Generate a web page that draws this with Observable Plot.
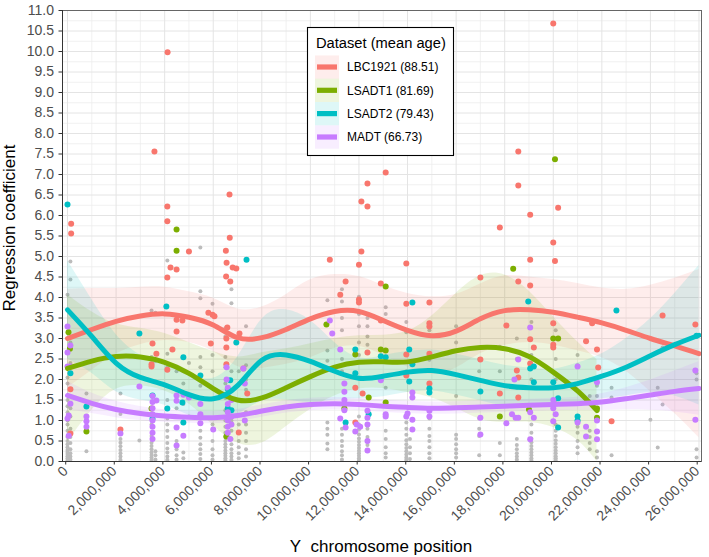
<!DOCTYPE html>
<html><head><meta charset="utf-8">
<script src="https://cdn.jsdelivr.net/npm/d3@7"></script>
<script src="https://cdn.jsdelivr.net/npm/@observablehq/plot@0.6"></script>
<style>body{margin:0;background:#fff;} #chart{position:relative;width:709px;height:557px;}</style>
</head><body><div id="chart"></div>
<script>
// ---------- data (positions in Mb, values = regression coefficient) ----------
const seriesNames = ["LBC1921 (88.51)", "LSADT1 (81.69)", "LSADT2 (79.43)", "MADT (66.73)"];
const seriesColors = ["#F8766D", "#7CAE00", "#00BFC4", "#C77CFF"];
const legendTitle = "Dataset (mean age)";
const xTitle = "Y\u00a0 chromosome position";
const yTitle = "Regression coefficient";

const xTicks = [0, 2e6, 4e6, 6e6, 8e6, 10e6, 12e6, 14e6, 16e6, 18e6, 20e6, 22e6, 24e6, 26e6];
const yTicks = [0, 0.5, 1, 1.5, 2, 2.5, 3, 3.5, 4, 4.5, 5, 5.5, 6, 6.5, 7, 7.5, 8, 8.5, 9, 9.5, 10, 10.5, 11];

// smoothed curves
const curveX = [0,1,2,3,4,5,6,7,8,9,10,11,12,13,14,15,16,17,18,19,20,21,22,23,24,25,26];
const curveXGreen = [0,1,2,3,4,5,6,7,8,9,10,11,12,13,14,15,16,17,18,19,20,21,21.8];

const redY  = [3.0,3.22,3.42,3.55,3.6,3.52,3.33,3.02,3.02,3.22,3.48,3.66,3.66,3.44,3.2,3.07,3.18,3.48,3.68,3.7,3.64,3.52,3.38,3.2,3.0,2.82,2.63];
const redLo = [1.8,2.22,2.62,2.85,2.95,2.9,2.68,2.32,2.27,2.37,2.53,2.76,2.81,2.59,2.3,2.12,2.28,2.63,2.83,2.9,2.84,2.7,2.53,2.2,1.7,1.17,0.58];
const redHi = [4.2,4.22,4.22,4.25,4.25,4.14,3.98,3.72,3.77,4.07,4.43,4.56,4.51,4.29,4.1,4.02,4.08,4.33,4.53,4.5,4.44,4.34,4.23,4.2,4.3,4.47,4.68];

const greenY  = [2.27,2.45,2.56,2.55,2.42,2.15,1.78,1.5,1.55,1.8,2.07,2.3,2.42,2.43,2.43,2.55,2.7,2.78,2.75,2.56,2.18,1.72,1.24];
const greenLo = [0.47,1.25,1.76,1.85,1.72,1.4,0.88,0.45,0.45,0.85,1.27,1.6,1.77,1.78,1.68,1.55,1.3,1.03,0.95,0.96,0.83,0.52,0.0];
const greenHi = [4.07,3.65,3.36,3.25,3.12,2.9,2.68,2.55,2.65,2.75,2.87,3.0,3.07,3.08,3.18,3.55,4.1,4.53,4.55,4.16,3.53,2.92,2.49];

const cyanY  = [3.7,3.05,2.4,2.05,1.87,1.63,1.53,1.85,2.47,2.6,2.44,2.2,2.03,2.08,2.18,2.22,2.12,1.98,1.85,1.8,1.8,1.9,2.08,2.3,2.58,2.85,3.08];
const cyanLo = [2.5,2.15,1.7,1.5,1.37,1.13,1.03,1.15,1.47,1.5,1.44,1.5,1.53,1.58,1.68,1.72,1.62,1.48,1.35,1.32,1.35,1.4,1.53,1.6,1.68,1.6,1.38];
const cyanHi = [4.9,3.95,3.1,2.6,2.37,2.13,2.03,2.55,3.47,3.7,3.44,2.9,2.53,2.58,2.68,2.72,2.62,2.48,2.35,2.28,2.25,2.4,2.63,3.0,3.48,4.1,4.78];

const purpleY  = [1.61,1.42,1.27,1.17,1.11,1.08,1.07,1.12,1.23,1.33,1.39,1.41,1.39,1.35,1.32,1.3,1.31,1.33,1.35,1.37,1.39,1.41,1.45,1.53,1.62,1.71,1.78];
const purpleLo = [1.26,1.17,1.07,1.0,0.96,0.93,0.92,0.97,1.08,1.18,1.24,1.26,1.24,1.2,1.17,1.15,1.16,1.18,1.2,1.22,1.24,1.25,1.25,1.26,1.25,1.21,1.13];
const purpleHi = [1.96,1.67,1.47,1.34,1.26,1.23,1.22,1.27,1.38,1.48,1.54,1.56,1.54,1.5,1.47,1.45,1.46,1.48,1.5,1.52,1.54,1.57,1.65,1.8,1.99,2.21,2.43];

// coloured (per-dataset) points: [position Mb, value]
const redPts = [[0.15,5.8],[0.15,5.56],[0.12,1.76],[0.12,0.68],[2.18,0.78],[3.58,7.56],[4.12,9.98],[4.11,6.22],[4.11,5.86],[4.24,4.73],[4.49,4.68],[4.11,4.49],[5.0,5.12],[6.67,6.51],[6.68,5.46],[6.52,5.14],[6.55,4.85],[6.8,4.73],[6.95,4.71],[6.53,4.51],[6.7,4.39],[5.8,3.63],[5.97,3.58],[6.05,3.54],[4.49,3.46],[4.73,3.44],[6.58,3.27],[7.08,3.12],[5.9,2.88],[6.54,3.0],[6.54,2.78],[4.49,3.17],[3.5,2.88],[3.66,2.63],[4.32,2.73],[3.46,2.37],[3.46,2.32],[6.54,2.37],[7.24,2.27],[4.11,2.24],[7.4,1.66],[7.05,0.71],
  [10.8,4.92],[12.1,5.12],[12.0,4.8],[13.95,4.83],[12.35,6.78],[12.1,6.34],[12.35,6.22],[13.1,7.05],[11.45,4.39],[11.23,4.07],[12.9,4.34],[12.0,3.95],[12.0,3.88],[13.95,3.85],[12.9,3.44],[12.35,2.66],[13.95,2.61],[13.95,2.1],[11.85,1.8],[12.15,1.66],[11.85,0.95],
  [20.0,10.68],[18.56,7.56],[18.56,6.73],[20.2,6.19],[19.05,6.02],[17.8,5.71],[20.0,5.34],[19.05,4.92],[20.07,4.89],[17.0,4.49],[18.56,4.39],[19.05,4.29],[14.9,3.88],[14.9,3.37],[14.9,3.29],[18.07,3.32],[20.0,3.37],[21.6,3.37],[19.05,2.98],[19.2,2.78],[20.0,2.85],[20.0,2.78],[21.35,2.93],[21.8,2.73],[14.9,2.63],[17.0,2.49],[19.05,2.39],[18.5,2.22],[18.56,2.05],[14.9,1.9],[17.8,1.66],[18.56,1.56],[21.85,2.29],[24.5,3.56],[25.85,3.34],[22.4,0.98]];
const greenPts = [[0.04,3.15],[0.1,2.75],[0.78,0.73],[4.49,5.66],[4.49,5.14],[3.46,1.29],[6.54,0.61],[10.66,3.34],[11.85,2.61],[12.9,2.73],[13.1,4.27],[13.1,2.71],[11.4,1.29],[12.4,1.56],[13.1,1.44],[18.35,4.7],[20.07,7.37],[20.0,3.0],[20.2,3.0],[17.8,1.1],[19.0,1.27],[21.8,1.29],[21.8,1.07]];
const cyanPts = [[0.0,6.27],[0.12,2.15],[0.78,1.34],[2.96,3.12],[4.07,3.78],[4.77,2.54],[3.5,1.61],[3.5,1.04],[4.11,1.29],[4.73,1.44],[4.77,0.95],[5.47,2.1],[6.95,2.9],[6.7,1.98],[6.6,1.77],[6.6,1.3],[6.75,1.25],[7.37,4.92],
  [11.85,2.73],[12.9,2.57],[13.1,2.54],[14.07,2.73],[14.2,2.37],[14.2,3.88],[11.85,2.15],[12.4,1.15],[11.45,0.95],[14.07,1.95],
  [18.97,3.9],[19.05,2.27],[19.2,2.32],[19.2,1.93],[14.9,1.78],[14.9,1.68],[17.0,1.71],[20.0,1.93],[20.2,1.54],[20.2,0.83],[21.0,1.1],[21.0,1.0],[22.6,3.68],[25.9,3.07]];
const purplePts = [[0.0,3.29],[0.12,2.83],[0.0,2.66],[0.0,2.32],[0.12,2.32],[0.12,1.41],[0.05,1.12],[0.0,1.05],[0.05,0.63],[0.78,1.1],[0.78,0.98],[0.78,0.85],[2.18,0.68],[2.96,1.83],[3.5,1.6],[3.5,1.45],[3.5,1.3],[3.5,1.15],[3.5,1.0],[3.5,0.85],[3.5,0.7],[3.5,0.55],[3.66,1.49],[4.49,1.61],[4.49,1.48],[4.77,1.63],[5.0,1.56],[4.49,0.83],[4.49,0.39],[4.77,0.63],[5.47,1.4],[5.47,1.15],[5.47,0.93],[6.0,0.78],[6.55,2.3],[6.55,2.0],[6.6,1.8],[6.6,1.6],[6.6,1.4],[6.6,1.2],[6.6,1.0],[6.6,0.85],[6.6,0.7],[6.7,0.55],[6.75,1.5],[6.75,1.1],[6.75,0.9],[7.24,2.27],[7.3,1.9],[7.3,1.0],
  [10.8,3.44],[10.9,3.12],[11.23,2.73],[11.4,1.9],[11.4,1.7],[11.4,1.5],[11.4,1.25],[11.23,1.05],[11.45,0.83],[11.9,0.9],[12.05,0.85],[11.85,0.73],[12.35,1.24],[12.35,1.07],[12.35,0.9],[12.35,0.5],[12.35,0.27],[12.9,1.98],[13.1,1.15],[13.1,1.1],[13.95,1.1],[14.0,1.17],[14.2,1.02],[14.2,0.78],[14.2,1.68],[14.2,1.56],[14.9,1.24],
  [19.05,3.27],[18.56,2.49],[18.4,2.0],[14.9,1.1],[17.0,1.07],[17.0,0.66],[18.07,0.93],[18.3,1.15],[18.45,1.07],[18.56,1.07],[19.05,0.54],[19.05,1.2],[19.2,1.07],[20.0,1.5],[20.0,1.3],[20.0,0.98],[20.1,1.15],[21.0,2.32],[21.8,1.93],[21.0,0.95],[21.35,0.85],[21.35,0.61],[21.8,0.73],[21.8,0.54],[21.8,1.0],[25.85,2.22],[25.85,1.02]];

// grey (all other) points: column positions (Mb) and the values in each column
const grayPos = [0.0,0.12,0.78,2.18,2.96,3.46,3.62,4.11,4.49,4.77,5.0,5.47,5.97,6.5,6.75,7.05,7.35,10.7,11.3,12.0,12.35,13.1,13.95,14.1,14.9,16.0,16.95,17.8,18.5,19.1,20.1,21.0,21.5,21.8,22.4,24.0,24.3,24.5,25.9];
const grayVals = [
  [0.03,0.08,0.13,0.18,0.23,0.28,0.35,0.42,0.5,0.6,0.75,0.9,1.0,1.2,1.35,1.5,1.9,2.05,4.07],
  [0.05,0.12,0.2,0.3,0.45,0.6,0.8,1.1,1.3,2.4,2.9,4.44,4.88],
  [0.25,0.75,0.95,1.66],
  [0.04,0.12,0.2,0.28,0.37,0.46,0.55,1.16,1.66],
  [0.51],
  [0.04,0.1,0.16,0.22,0.3,0.38,0.46,0.62,0.9,2.55,3.68],
  [0.05,0.15,0.25,2.45,3.63],
  [0.04,0.12,0.22,0.32,0.45,0.6,0.75,0.9,1.05,1.5,2.3,2.63,4.9],
  [0.05,0.15,0.3,0.5,1.3,2.2],
  [0.08,0.22,1.4,1.9,2.2],
  [1.1,1.55,2.4],
  [0.06,0.18,0.3,0.42,0.58,0.75,1.85,2.3,2.55,3.98,4.15,5.22],
  [0.05,0.15,0.3,0.5,0.9,2.2,2.6,3.85],
  [0.03,0.08,0.14,0.2,0.27,0.35,0.42,0.5,0.6,0.7,0.85,1.0,1.25,1.55,1.9,2.3,2.55,3.05,3.25],
  [0.04,0.12,0.2,0.3,0.42,0.55,0.75,1.0,1.5,2.2,3.86,4.2],
  [0.08,0.2,0.35,0.5,0.7,0.9,2.2],
  [0.12,0.3,0.5,0.7,0.9,1.2,1.75,2.0,2.35,3.3],
  [0.3,0.44,0.65,0.8,0.95,2.27,2.46,2.71,3.93],
  [0.05,0.15,0.25,0.38,0.5,0.65,0.8,2.2,2.5,3.2,3.5,3.9,4.2],
  [0.03,0.08,0.14,0.2,0.26,0.33,0.4,0.48,0.56,0.66,0.78,0.9,1.1,2.6,2.9,3.3,3.6,4.02],
  [0.4,0.6,0.8,2.85,3.05,3.3,3.5],
  [0.1,0.2,0.35,0.55,0.75,1.8,3.6,3.76],
  [0.04,0.1,0.17,0.25,0.33,0.42,0.52,0.65,0.8,0.95,2.2,3.15,3.4],
  [0.06,0.2,0.35,0.55],
  [0.08,0.2,0.35,0.5,0.62,0.8,1.05,2.48,3.2],
  [0.1,0.2,0.3,0.42,0.55,0.65,1.6,2.9,3.3],
  [0.15,0.62,0.8,1.05,2.2,2.5],
  [0.15,0.45,2.2,2.8],
  [0.05,0.12,0.2,0.3,0.4,0.55,1.8,2.5,3.0],
  [0.03,0.08,0.15,0.22,0.3,0.38,0.47,0.56,0.7,0.9,2.0,2.6,3.4,3.7],
  [0.03,0.08,0.13,0.2,0.27,0.35,0.43,0.52,0.62,0.75,0.9,1.5,2.0,2.5,3.2],
  [0.2,0.35,0.5,0.7,0.85,2.35,2.6],
  [0.3,0.45,0.6,0.75,1.6,2.0],
  [0.1,0.25,1.6,1.85],
  [0.15,1.56,1.8],
  [1.02],
  [0.34,1.8],
  [1.39,2.78],
  [0.1,0.3,2.0,2.15]
];

// ---------- tables for the library ----------
const MB = 1e6;
const curveDefs = [
  [seriesNames[0], curveX, redY, redLo, redHi],
  [seriesNames[1], curveXGreen, greenY, greenLo, greenHi],
  [seriesNames[2], curveX, cyanY, cyanLo, cyanHi],
  [seriesNames[3], curveX, purpleY, purpleLo, purpleHi]
];
const curveRows = curveDefs.flatMap(([s, xs, ys, lo, hi]) =>
  xs.map((x, i) => ({series: s, pos: x * MB, y: ys[i], lo: lo[i], hi: hi[i]})));
const pointRows = [redPts, greenPts, cyanPts, purplePts].flatMap((pts, k) =>
  pts.map(([p, v]) => ({series: seriesNames[k], pos: p * MB, val: v})));
const grayRows = grayPos.flatMap((p, i) => grayVals[i].map(v => ({pos: p * MB, val: v})));

const xDomain = [-0.206e6, 26.103e6];
const minorX = d3.range(1e6, 26e6, 2e6);
const minorY = d3.range(0.25, 11, 0.5);

const plot = Plot.plot({
  width: 709, height: 557,
  marginLeft: 62, marginRight: 8, marginTop: 10, marginBottom: 96,
  style: {fontFamily: "'Liberation Sans', Arial, sans-serif", background: "#fff", overflow: "visible"},
  x: {domain: xDomain},
  y: {domain: [0, 11]},
  color: {domain: seriesNames, range: seriesColors},
  marks: [
    Plot.gridX({ticks: minorX, stroke: "#eeeeee", strokeOpacity: 1, strokeWidth: 0.8}),
    Plot.gridY({ticks: minorY, stroke: "#eeeeee", strokeOpacity: 1, strokeWidth: 0.8}),
    Plot.gridX({ticks: xTicks, stroke: "#e4e4e4", strokeOpacity: 1, strokeWidth: 1}),
    Plot.gridY({ticks: yTicks, stroke: "#e4e4e4", strokeOpacity: 1, strokeWidth: 1}),
    Plot.dot(grayRows, {x: "pos", y: "val", r: 2, fill: "#bcbcbc", stroke: null, clip: true}),
    Plot.areaY(curveRows, {x: "pos", y1: "lo", y2: "hi", z: "series", fill: "series", fillOpacity: 0.13, curve: "natural", clip: true}),
    Plot.dot(pointRows, {x: "pos", y: "val", r: 3, fill: "series", stroke: null}),
    Plot.line(curveRows, {x: "pos", y: "y", z: "series", stroke: "series", strokeWidth: 5, curve: "natural"}),
    Plot.frame({stroke: "#666666", strokeWidth: 1}),
    Plot.ruleY([0], {stroke: "#333333", strokeWidth: 1}),
    Plot.ruleX([xDomain[0]], {stroke: "#333333", strokeWidth: 1}),
    Plot.axisY({ticks: yTicks, tickFormat: d3.format(".1f"), fontSize: 14, tickSize: 3.5, tickPadding: 5, label: null}),
    Plot.axisX({ticks: xTicks, tickFormat: d3.format(","), tickRotate: -45, fontSize: 14, tickSize: 3.5, tickPadding: 3.8, dx: -1.8, label: null})
  ]
});

const svg = d3.select(plot);
svg.selectAll('[aria-label$="tick label"]').attr("fill", "#4d4d4d");
svg.selectAll('[aria-label="x-axis tick"], [aria-label="y-axis tick"]').attr("stroke", "#333333");

// axis titles
svg.append("text").attr("x", 381).attr("y", 552).attr("text-anchor", "middle")
  .attr("font-size", 17).attr("fill", "#000").text(xTitle);
svg.append("text").attr("transform", "translate(15,228) rotate(-90)").attr("text-anchor", "middle")
  .attr("font-size", 17).attr("fill", "#000").text(yTitle);

// legend
const lg = svg.append("g").attr("font-family", "'Liberation Sans', Arial, sans-serif").attr("text-anchor", "start");
lg.append("rect").attr("x", 307.5).attr("y", 27.5).attr("width", 146).attr("height", 128)
  .attr("fill", "#fff").attr("stroke", "#000").attr("stroke-width", 1.1);
lg.append("text").attr("x", 316).attr("y", 48).attr("text-anchor", "start").attr("font-size", 14.7).attr("fill", "#000").text(legendTitle);
const rowY = [67, 90.3, 113.6, 137];
seriesNames.forEach((name, i) => {
  const cy = rowY[i];
  lg.append("rect").attr("x", 315).attr("y", cy - 11.6).attr("width", 24).attr("height", 23.3)
    .attr("fill", seriesColors[i]).attr("fill-opacity", 0.13);
  lg.append("rect").attr("x", 317).attr("y", cy - 2.6).attr("width", 20).attr("height", 5.2)
    .attr("fill", seriesColors[i]);
  lg.append("text").attr("x", 347).attr("y", cy + 4.3).attr("text-anchor", "start").attr("font-size", 12).attr("fill", "#000").text(name);
});

document.getElementById("chart").appendChild(plot);
</script>
</body></html>
